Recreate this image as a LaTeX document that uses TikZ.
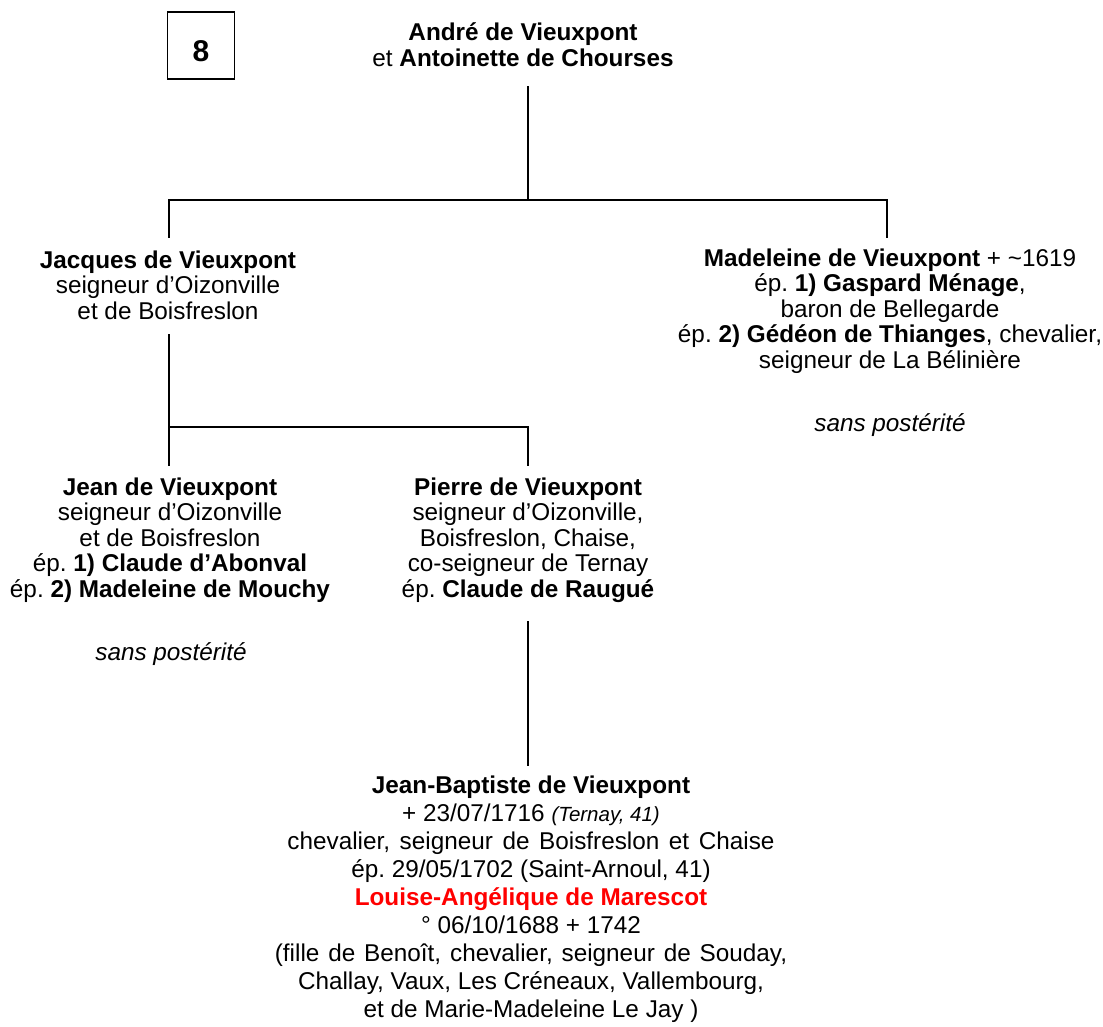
\documentclass[tikz,border=0pt]{standalone}
\usepackage{fontspec}
\setmainfont{Liberation Sans}
\definecolor{namered}{RGB}{255,0,0}
\frenchspacing
\begin{document}
\begin{tikzpicture}[x=1pt,y=-1pt,
  person/.style={anchor=north,align=center,inner sep=0pt,outer sep=0pt,
    font=\fontsize{24.3}{25.5}\selectfont\frenchspacing},
  note/.style={anchor=north,align=center,inner sep=0pt,outer sep=0pt,
    font=\fontsize{24.3}{25.5}\selectfont\itshape},
  numbox/.style={draw,line width=1.2pt,minimum width=67pt,minimum height=67pt,
    inner sep=0pt,text height=32.5pt,text depth=0pt,
    font=\fontsize{30}{32}\selectfont\bfseries},
  link/.style={line width=2.6pt,line cap=rect}
]
\newcommand{\fl}{\rule{0pt}{20pt}}
\newcommand{\widesp}{\spaceskip=9.6pt plus 1pt minus 1pt\relax}
\useasboundingbox (0,0) rectangle (1103,1027);

\node[numbox] (num) at (201,45.5) {8};

\node[person] (andre) at (523,21) {\fl\textbf{André de Vieuxpont}\\et \textbf{Antoinette de Chourses}};

\node[person] (jacques) at (168,248) {\fl\textbf{Jacques de Vieuxpont}\\seigneur d’Oizonville\\et de Boisfreslon};

\node[person] (madeleine) at (890,246) {\fl\textbf{Madeleine de Vieuxpont} + \textasciitilde1619\\
ép. \textbf{1) Gaspard Ménage},\\baron de Bellegarde\\
ép. \textbf{2) Gédéon de Thianges}, chevalier,\\seigneur de La Bélinière};
\node[note] (madsp) at (890,411) {\fl sans postérité};

\node[person] (jean) at (170,475) {\fl\textbf{Jean de Vieuxpont}\\seigneur d’Oizonville\\et de Boisfreslon\\
ép. \textbf{1) Claude d’Abonval}\\ép. \textbf{2) Madeleine de Mouchy}};
\node[note] (jeansp) at (171,640) {\fl sans postérité};

\node[person] (pierre) at (528,475) {\fl\textbf{Pierre de Vieuxpont}\\seigneur d’Oizonville,\\Boisfreslon, Chaise,\\
co-seigneur de Ternay\\ép. \textbf{Claude de Raugué}};

\node[person,font=\fontsize{24.3}{28}\selectfont\frenchspacing] (jb) at (531,773) {\fl\textbf{Jean-Baptiste de Vieuxpont}\\
+ 23/07/1716 {\fontsize{20.5}{28}\selectfont\itshape (Ternay, 41)}\\
{\widesp chevalier, seigneur de Boisfreslon et Chaise}\\
ép. 29/05/1702 (Saint-Arnoul, 41)\\
{\color{namered}\bfseries Louise-Angélique de Marescot}\\
° 06/10/1688 + 1742\\
{\spaceskip=8.9pt plus 1pt minus 1pt\relax (fille de Benoît, chevalier, seigneur de Souday,}\\
Challay, Vaux, Les Créneaux, Vallembourg,\\
et de Marie-Madeleine Le Jay )};

% junction coordinates
\coordinate (a1) at (528,87);
\coordinate (a2) at (528,200);
\coordinate (jtop) at (169,237);
\coordinate (mtop) at (887,237);
\coordinate (j1) at (169,335);
\coordinate (j2) at (169,427);
\coordinate (jeantop) at (169,465);
\coordinate (pierretop) at (528,465);
\coordinate (p1) at (528,622);
\coordinate (jbtop) at (528,765);

\draw[link] (a1) -- (a2);
\draw[link] (jtop) |- (a2) -| (mtop);
\draw[link] (j1) -- (j2);
\draw[link] (jeantop) |- (j2) -| (pierretop);
\draw[link] (p1) -- (jbtop);
\end{tikzpicture}
\end{document}
